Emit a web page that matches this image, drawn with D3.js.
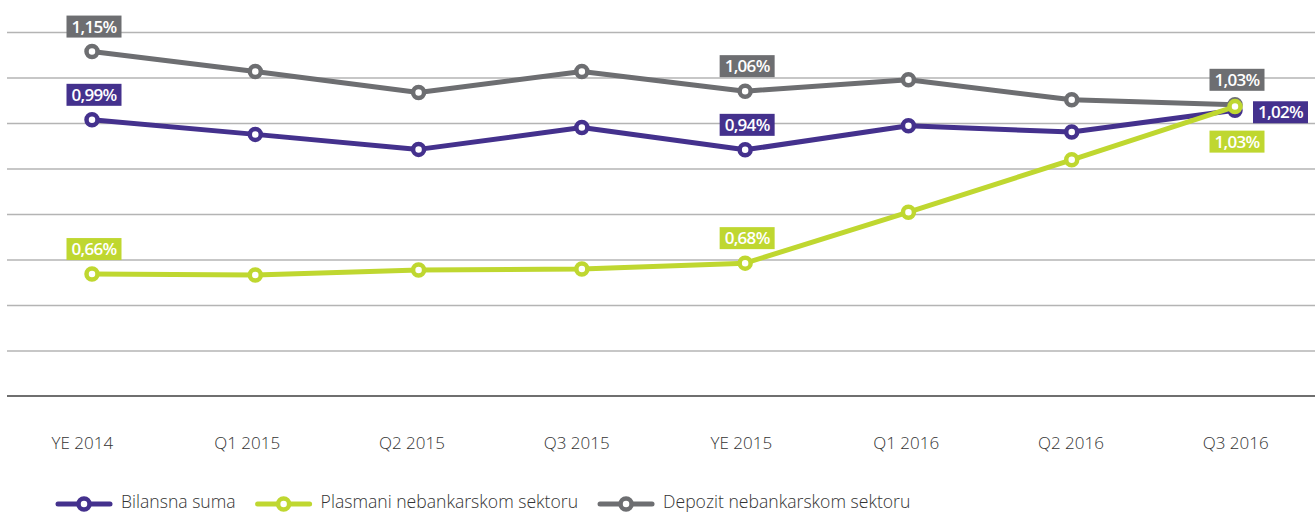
<!DOCTYPE html>
<html>
<head>
<meta charset="utf-8">
<script src="https://cdn.jsdelivr.net/npm/d3@7"></script>
<style>
  body { margin: 0; background: #fff; }
  svg { display: block; }
</style>
</head>
<body>
<svg width="1315" height="513"></svg>
<script>
// Chart data.
var categories = ["YE 2014", "Q1 2015", "Q2 2015", "Q3 2015", "YE 2015", "Q1 2016", "Q2 2016", "Q3 2016"];
var bilansna = [1.007, 0.975, 0.942, 0.990, 0.941, 0.994, 0.980, 1.028];
var plasmani = [0.668, 0.666, 0.677, 0.679, 0.692, 0.804, 0.919, 1.036];
var depozit = [1.157, 1.113, 1.067, 1.113, 1.070, 1.095, 1.051, 1.040];

// Data labels shown on the chart (at points 0, 4 and 7).
var labelIndex = [0, 4, 7];
var bilansnaLabels = ["0,99%", "0,94%", "1,02%"];
var plasmaniLabels = ["0,66%", "0,68%", "1,03%"];
var depozitLabels = ["1,15%", "1,06%", "1,03%"];

var seriesNames = ["Bilansna suma", "Plasmani nebankarskom sektoru", "Depozit nebankarskom sektoru"];

function visualization() {
    var svg = d3.select("svg");
    var width = +svg.attr("width");

    var purple = "#44318d", green = "#bfd730", gray = "#6d6e71";

    var series = [
        {name: seriesNames[2], values: depozit, labels: depozitLabels, color: gray, last: "above"},
        {name: seriesNames[0], values: bilansna, labels: bilansnaLabels, color: purple, last: "right"},
        {name: seriesNames[1], values: plasmani, labels: plasmaniLabels, color: green, last: "below"}
    ];

    var yScale = d3.scaleLinear().domain([0.4, 1.2]).range([396, 32]);
    var xScale = d3.scalePoint().domain(categories).range([92, 1235]);
    var xBand = d3.scaleBand().domain(categories).range([0, 1318]);

    // gridlines
    var grid = svg.append("g").attr("transform", "translate(" + width + ",0)")
        .call(d3.axisLeft(yScale).tickValues(d3.range(5, 13).map(function(d){ return d / 10; }))
            .tickSize(width - 7).tickFormat(""));
    grid.select(".domain").remove();
    grid.selectAll(".tick line").attr("stroke", "#b4b4b4").attr("stroke-width", 1.4);

    // base axis line
    svg.append("line")
        .attr("x1", 7).attr("x2", width)
        .attr("y1", yScale(0.4)).attr("y2", yScale(0.4))
        .attr("stroke", "#6f6f6f").attr("stroke-width", 2);

    // category labels
    var xAxis = svg.append("g").attr("transform", "translate(0," + yScale(0.4) + ")")
        .call(d3.axisBottom(xBand).tickSize(0).tickPadding(0));
    xAxis.select(".domain").remove();
    xAxis.selectAll("text")
        .attr("y", 53).attr("dy", 0)
        .attr("fill", "#333")
        .style("font-family", "'Open Sans', sans-serif")
        .style("font-size", "17px")
        .style("font-weight", 300);

    var line = d3.line()
        .x(function(d, i){ return xScale(categories[i]); })
        .y(function(d){ return yScale(d); });

    series.forEach(function(s) {
        var g = svg.append("g");
        g.append("path")
            .datum(s.values)
            .attr("d", line)
            .attr("fill", "none")
            .attr("stroke", s.color)
            .attr("stroke-width", 5)
            .attr("stroke-linejoin", "round");
        g.selectAll("circle")
            .data(s.values)
            .enter().append("circle")
            .attr("cx", function(d, i){ return xScale(categories[i]); })
            .attr("cy", function(d){ return yScale(d); })
            .attr("r", 5.5)
            .attr("fill", "#fff")
            .attr("stroke", s.color)
            .attr("stroke-width", 4.5);
    });

    // data label boxes
    var boxW = 55, boxH = 22;
    series.forEach(function(s) {
        labelIndex.forEach(function(idx, k) {
            var px = xScale(categories[idx]);
            var py = yScale(s.values[idx]);
            var place = (k == labelIndex.length - 1) ? s.last : "above";
            var bx, by;
            if (place == "right") {
                bx = px + 18; by = py - boxH / 2 + 2;
            } else if (place == "below") {
                bx = px - boxW / 2 + 2; by = py + 24;
            } else {
                bx = px - boxW / 2 + 2; by = py - 14 - boxH;
            }
            svg.append("rect")
                .attr("x", bx).attr("y", by)
                .attr("width", boxW).attr("height", boxH)
                .attr("fill", s.color);
            svg.append("text")
                .attr("x", bx + boxW / 2).attr("y", by + boxH / 2 + 6)
                .attr("text-anchor", "middle")
                .attr("fill", "#fff")
                .style("font-family", "'Open Sans', sans-serif")
                .style("font-size", "17px")
                .style("font-weight", 600)
                .style("letter-spacing", "-0.7px")
                .text(s.labels[k]);
        });
    });

    // legend
    var legendColors = [purple, green, gray];
    var lx = 58, ly = 504;
    seriesNames.forEach(function(name, i) {
        var g = svg.append("g");
        g.append("line")
            .attr("x1", lx).attr("x2", lx + 52)
            .attr("y1", ly).attr("y2", ly)
            .attr("stroke", legendColors[i]).attr("stroke-width", 5)
            .attr("stroke-linecap", "round");
        g.append("circle")
            .attr("cx", lx + 26).attr("cy", ly).attr("r", 5.5)
            .attr("fill", "#fff")
            .attr("stroke", legendColors[i]).attr("stroke-width", 4.5);
        var t = g.append("text")
            .attr("x", lx + 63).attr("y", ly + 4)
            .attr("fill", "#333")
            .style("font-family", "'Open Sans', sans-serif")
            .style("font-size", "17.6px")
            .style("font-weight", 300)
            .text(name);
        lx = lx + 63 + t.node().getComputedTextLength() + 22;
    });
}

visualization();
</script>
</body>
</html>
